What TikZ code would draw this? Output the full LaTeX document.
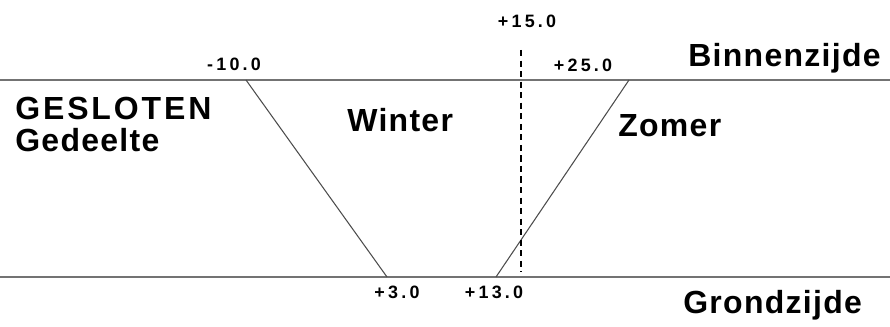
\documentclass[tikz,border=0pt]{standalone}
\usepackage{fontspec}
\setmainfont{Liberation Sans}
\usepackage{tikz}
\usetikzlibrary{positioning, calc}
\newfontfamily\numfont[LetterSpace=18]{Liberation Sans}
\newfontfamily\lblfont[LetterSpace=4]{Liberation Sans}
\newfontfamily\capsfont[LetterSpace=9]{Liberation Sans}

\begin{document}
\begin{tikzpicture}[
          x=0.02cm, y=-0.02cm,
          grens/.style={draw=black!55, line width=1.1pt},
          schuin/.style={draw=black!70, line width=0.6pt},
          hulp/.style={draw=black, line width=0.7pt, dash pattern=on 3.5pt off 2.5pt},
          lbl/.style={font=\lblfont\fontsize{18.2}{18.2}\selectfont\bfseries, anchor=base west, inner sep=0pt},
          num/.style={font=\numfont\fontsize{10.2}{12}\selectfont\bfseries, inner sep=0pt},
        ]
        \useasboundingbox (0,0) rectangle (890,327);
        % grenslijnen
        \coordinate (bl) at (0,80);
        \coordinate (br) at (890,80);
        \coordinate (ol) at (0,277);
        \coordinate (or) at (890,277);
        \draw[grens] (bl) -- (br);
        \draw[grens] (ol) -- (or);
        % winter- en zomergrens
        \coordinate (wt) at (246,80);
        \coordinate (wb) at (387,277);
        \coordinate (zt) at (629,80);
        \coordinate (zb) at (496,277);
        \draw[schuin] (wt) -- (wb);
        \draw[schuin] (zt) -- (zb);
        \coordinate (ht) at (521,50);
        \coordinate (hb) at (521,272);
        \draw[hulp] (ht) -- (hb);
        % getallen
        \node[num] (n15) at (527,21) {+15.0};
        \node[num] (nm10) at (234,64) {-10.0};
        \node[num] (n25) at (583,65) {+25.0};
        \node[num] (n3) at (397,292) {+3.0};
        \node[num] (n13) at (494,292) {+13.0};
        % teksten
        \node[lbl] (binnen) at (688,67) {Binnenzijde};
        \node[lbl] (grond) at (683,314) {Grondzijde};
        \node[lbl, anchor=north west, align=left] (gesloten) at (15,97) {{\capsfont\bfseries GESLOTEN}\\Gedeelte};
        \node[lbl] (winter) at (347,132) {Winter};
        \node[lbl] (zomer) at (618,137) {Zomer};
        \end{tikzpicture}
\end{document}
